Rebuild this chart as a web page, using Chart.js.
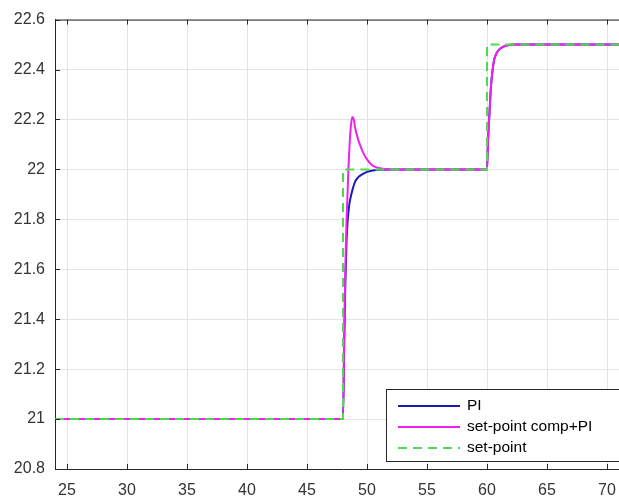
<!DOCTYPE html>
<html>
<head>
<meta charset="utf-8">
<script src="https://cdn.jsdelivr.net/npm/chart.js@4/dist/chart.umd.min.js"></script>
<style>
html,body{margin:0;padding:0;background:#fff;overflow:hidden;}
#wrap{width:640px;height:498px;position:relative;}
</style>
</head>
<body>
<div id="wrap"><canvas id="c" width="640" height="498"></canvas></div>
<script>
// ---- data ----
const xTicks = [25, 30, 35, 40, 45, 50, 55, 60, 65, 70];
const yTicks = [20.8, 21, 21.2, 21.4, 21.6, 21.8, 22, 22.2, 22.4, 22.6];

const spTime  = [24, 48, 48, 60, 60, 72];
const spValue = [21, 21, 22, 22, 22.5, 22.5];

const piTime  = [24, 48, 48.1, 48.2, 48.3, 48.4, 48.5, 48.6, 48.8, 49, 49.3, 49.6, 50, 50.5, 51, 52,
                 60, 60.05, 60.1, 60.2, 60.3, 60.4, 60.47, 60.6, 60.8, 61, 61.3, 61.7, 62.2, 72];
const piValue = [21, 21, 21.3, 21.55, 21.72, 21.8, 21.85, 21.88, 21.92, 21.95, 21.97, 21.98, 21.99, 21.996, 21.999, 22,
                 22, 22.07, 22.13, 22.22, 22.31, 22.37, 22.4, 22.44, 22.465, 22.48, 22.49, 22.497, 22.5, 22.5];

const compTime  = [24, 48, 48.1, 48.2, 48.3, 48.4, 48.45, 48.55, 48.65, 48.77, 48.9, 49, 49.2, 49.4, 49.7, 50, 50.4, 50.8, 51.5, 52,
                   60, 60.05, 60.1, 60.2, 60.3, 60.4, 60.47, 60.6, 60.8, 61, 61.3, 61.7, 62.2, 72];
const compValue = [21, 21, 21.35, 21.62, 21.8, 21.93, 22, 22.1, 22.17, 22.21, 22.2, 22.17, 22.13, 22.1, 22.065, 22.04, 22.018, 22.008, 22.002, 22,
                   22, 22.07, 22.13, 22.22, 22.31, 22.37, 22.4, 22.44, 22.465, 22.48, 22.49, 22.497, 22.5, 22.5];

const seriesNames = ['PI', 'set-point comp+PI', 'set-point'];
const seriesColors = ['#1c1cb4', '#ee22ee', '#4ddb4d'];

const toPts = (t, v) => t.map((x, i) => ({x: x, y: v[i]}));

const axisColor = '#262626';
const labelColor = '#333333';
const gridColor = '#e3e3e3';

const framePlugin = {
  id: 'frame',
  afterDraw(chart) {
    const ctx = chart.ctx, a = chart.chartArea;
    const xs = chart.scales.x, ys = chart.scales.y;
    ctx.save();
    ctx.strokeStyle = axisColor;
    ctx.lineWidth = 1;
    // top border
    ctx.beginPath();
    ctx.moveTo(a.left, a.top + 0.5);
    ctx.lineTo(a.right, a.top + 0.5);
    ctx.stroke();
    // inward ticks
    const tl = 5;
    ctx.beginPath();
    xTicks.forEach(v => {
      const px = Math.round(xs.getPixelForValue(v)) + 0.5;
      ctx.moveTo(px, a.bottom); ctx.lineTo(px, a.bottom - tl);
      ctx.moveTo(px, a.top); ctx.lineTo(px, a.top + tl);
    });
    yTicks.forEach(v => {
      const py = Math.round(ys.getPixelForValue(v)) + 0.5;
      ctx.moveTo(a.left, py); ctx.lineTo(a.left + tl, py);
    });
    ctx.stroke();
    // legend box
    const lx = 386.5, ly = 389.5, lr = a.right - 8, lh = 72;
    ctx.fillStyle = '#fff';
    ctx.fillRect(lx, ly, lr - lx, lh);
    ctx.strokeRect(lx, ly, lr - lx, lh);
    const rows = [406, 427, 448];
    ctx.font = '15.5px Arial, "Liberation Sans", sans-serif';
    ctx.textBaseline = 'middle';
    ctx.textAlign = 'left';
    seriesNames.forEach((name, i) => {
      ctx.strokeStyle = seriesColors[i];
      ctx.lineWidth = 2;
      ctx.setLineDash(i === 2 ? [9, 6] : []);
      ctx.beginPath();
      ctx.moveTo(398, rows[i]); ctx.lineTo(460, rows[i]);
      ctx.stroke();
      ctx.setLineDash([]);
      ctx.fillStyle = '#000';
      ctx.fillText(name, 467, rows[i]);
    });
    ctx.restore();
  }
};

new Chart(document.getElementById('c'), {
  type: 'line',
  data: {
    datasets: [
      {label: seriesNames[2], data: toPts(spTime, spValue), borderColor: seriesColors[2], borderWidth: 2,
       borderDash: [9, 6], pointRadius: 0, tension: 0, order: 0},
      {label: seriesNames[1], data: toPts(compTime, compValue), borderColor: seriesColors[1], borderWidth: 2,
       pointRadius: 0, cubicInterpolationMode: 'monotone', order: 1},
      {label: seriesNames[0], data: toPts(piTime, piValue), borderColor: seriesColors[0], borderWidth: 2,
       pointRadius: 0, cubicInterpolationMode: 'monotone', order: 2}
    ]
  },
  options: {
    responsive: false,
    animation: false,
    layout: {padding: {top: 16, right: 9, left: 0, bottom: 0}},
    plugins: {legend: {display: false}, tooltip: {enabled: false}},
    scales: {
      x: {
        type: 'linear', min: 24, max: 72,
        afterBuildTicks: s => { s.ticks = xTicks.map(v => ({value: v})); },
        afterFit: s => { s.height = 29; },
        grid: {color: gridColor, drawTicks: false},
        border: {color: axisColor, width: 1},
        ticks: {color: labelColor, font: {family: 'Arial, "Liberation Sans", sans-serif', size: 16}, padding: 12,
                maxRotation: 0, autoSkip: false}
      },
      y: {
        type: 'linear', min: 20.8, max: 22.6,
        afterBuildTicks: s => { s.ticks = yTicks.map(v => ({value: v})); },
        afterFit: s => { s.width = 55; },
        grid: {color: gridColor, drawTicks: false},
        border: {color: axisColor, width: 1},
        ticks: {color: labelColor, font: {family: 'Arial, "Liberation Sans", sans-serif', size: 16}, padding: 10,
                autoSkip: false, callback: v => String(Number(v.toFixed(1)))}
      }
    }
  },
  plugins: [framePlugin]
});
</script>
</body>
</html>
